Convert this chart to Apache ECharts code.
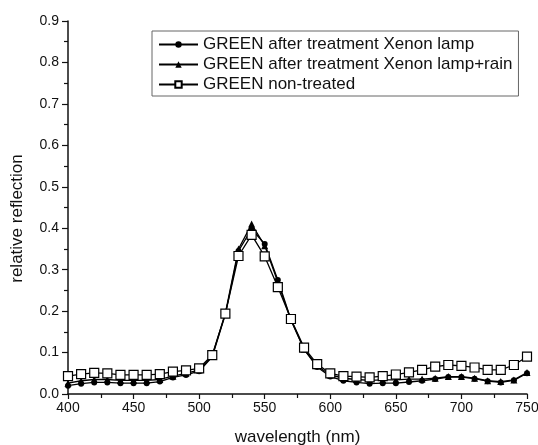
<!DOCTYPE html>
<html>
<head>
<meta charset="utf-8">
<script src="https://cdn.jsdelivr.net/npm/echarts@6/dist/echarts.min.js"></script>
<style>
html,body{margin:0;padding:0;background:#fff;}
#c{width:538px;height:445px;}
</style>
</head>
<body>
<div id="c"></div>
<script>
const wavelengths = [400,410,420,430,440,450,460,470,480,490,500,510,520,530,540,550,560,570,580,590,600,610,620,630,640,650,660,670,680,690,700,710,720,730,740,750];
const xenonLamp = [0.020,0.025,0.028,0.028,0.026,0.026,0.026,0.030,0.040,0.046,0.055,0.090,0.192,0.345,0.398,0.362,0.275,0.180,0.108,0.065,0.042,0.032,0.028,0.025,0.026,0.026,0.029,0.032,0.036,0.041,0.041,0.037,0.031,0.028,0.033,0.050];
const xenonLampRain = [0.026,0.032,0.035,0.035,0.033,0.033,0.033,0.035,0.043,0.050,0.058,0.092,0.195,0.350,0.410,0.358,0.270,0.178,0.108,0.068,0.046,0.038,0.035,0.033,0.034,0.034,0.036,0.036,0.038,0.042,0.042,0.038,0.032,0.030,0.034,0.052];
const nonTreated = [0.043,0.048,0.051,0.050,0.046,0.046,0.046,0.048,0.054,0.057,0.062,0.094,0.194,0.333,0.384,0.332,0.258,0.181,0.112,0.072,0.050,0.043,0.042,0.040,0.043,0.047,0.052,0.058,0.066,0.070,0.068,0.064,0.058,0.058,0.070,0.090];
const seriesNames = ['GREEN after treatment Xenon lamp','GREEN after treatment Xenon lamp+rain','GREEN non-treated'];
const xTicks = {min:400,max:750,interval:50};
const yTicks = {min:0,max:0.9,interval:0.1};

const pair = arr => wavelengths.map((w,i)=>[w,arr[i]]);
const font = 'Liberation Sans, Arial, Helvetica, sans-serif';
const chart = echarts.init(document.getElementById('c'), null, {renderer:'canvas'});
chart.setOption({
  animation:false,
  backgroundColor:'#fff',
  grid:{left:68,right:11,top:21,bottom:51,containLabel:false,outerBoundsMode:'none'},
  legend:{
    left:152, top:31, orient:'vertical',
    itemWidth:39, itemHeight:8, itemGap:3,
    padding:[5,6,3,6],
    borderColor:'#666', borderWidth:1,
    textStyle:{fontFamily:font,fontSize:17,color:'#111'},
    data:seriesNames
  },
  xAxis:{
    type:'value', min:xTicks.min, max:xTicks.max, interval:xTicks.interval,
    name:'wavelength (nm)', nameLocation:'middle', nameGap:35,
    nameTextStyle:{fontFamily:font,fontSize:17,color:'#111'},
    axisLine:{show:true,onZero:false,lineStyle:{color:'#111',width:1.5}},
    axisTick:{show:true,inside:false,length:5,lineStyle:{color:'#111',width:1.2}},
    minorTick:{show:true,splitNumber:2,length:4,lineStyle:{color:'#111',width:1.2}},
    axisLabel:{fontFamily:font,fontSize:14,color:'#111',margin:7},
    splitLine:{show:false}
  },
  yAxis:{
    type:'value', min:yTicks.min, max:yTicks.max, interval:yTicks.interval,
    name:'relative reflection', nameLocation:'middle', nameGap:42,
    nameTextStyle:{fontFamily:font,fontSize:17,color:'#111',padding:[0,22,0,0]},
    axisLine:{show:true,lineStyle:{color:'#111',width:1.5}},
    axisTick:{show:true,inside:false,length:6,lineStyle:{color:'#111',width:1.2}},
    minorTick:{show:true,splitNumber:2,length:4,lineStyle:{color:'#111',width:1.2}},
    axisLabel:{fontFamily:font,fontSize:14,color:'#111',margin:9,formatter:v=>v.toFixed(1)},
    splitLine:{show:false}
  },
  series:[
    {name:seriesNames[0],type:'line',data:pair(xenonLamp),symbol:'circle',symbolSize:6,
     lineStyle:{color:'#000',width:1.3},itemStyle:{color:'#000'},z:2},
    {name:seriesNames[1],type:'line',data:pair(xenonLampRain),symbol:'triangle',symbolSize:7,
     lineStyle:{color:'#000',width:1.3},itemStyle:{color:'#000'},z:3},
    {name:seriesNames[2],type:'line',data:pair(nonTreated),symbol:'rect',symbolSize:9,
     lineStyle:{color:'#000',width:1.3},itemStyle:{color:'#fff',borderColor:'#000',borderWidth:1.2},z:4}
  ]
});
</script>
</body>
</html>
